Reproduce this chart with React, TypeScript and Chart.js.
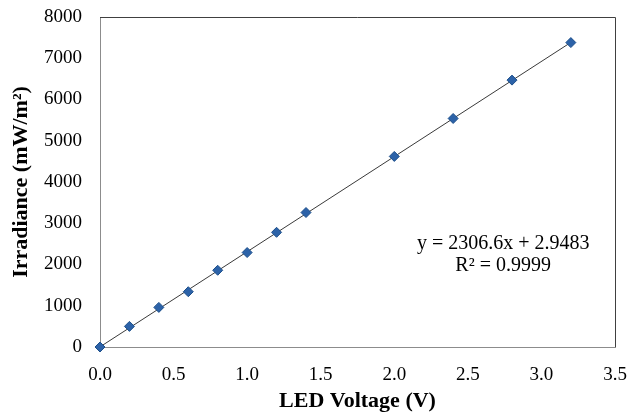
import React, { useEffect, useRef } from "react";
import { Chart, registerables } from "chart.js";

Chart.register(...registerables);

const voltages = [0, 0.2, 0.4, 0.6, 0.8, 1.0, 1.2, 1.4, 2.0, 2.4, 2.8, 3.2];
const irradiance = [0, 500, 960, 1340, 1860, 2290, 2780, 3260, 4620, 5540, 6470, 7380];
const slope = 2306.6;
const intercept = 2.9483;
const trendX = [0, 3.2];
const equationLines = ["y = 2306.6x + 2.9483", "R² = 0.9999"];
const xTitle = "LED Voltage (V)";
const yTitle = "Irradiance (mW/m²)";

const FONT = "'Liberation Serif', 'Times New Roman', serif";

export default function App() {
  const ref = useRef<HTMLCanvasElement>(null);

  useEffect(() => {
    const canvas = ref.current;
    if (!canvas) return;

    const framePlugin = {
      id: "frame",
      afterDatasetsDraw(chart: any) {
        const { ctx, chartArea } = chart;
        ctx.save();
        ctx.strokeStyle = "#404040";
        ctx.lineWidth = 1;
        ctx.beginPath();
        ctx.moveTo(chartArea.left, chartArea.top + 0.5);
        ctx.lineTo(chartArea.right + 0.5, chartArea.top + 0.5);
        ctx.lineTo(chartArea.right + 0.5, chartArea.bottom);
        ctx.stroke();
        const xs = chart.scales.x;
        const ys = chart.scales.y;
        ctx.fillStyle = "#000";
        ctx.font = `20px ${FONT}`;
        ctx.textAlign = "center";
        ctx.textBaseline = "middle";
        ctx.fillText(equationLines[0], xs.getPixelForValue(2.74), ys.getPixelForValue(2500));
        ctx.fillText(equationLines[1], xs.getPixelForValue(2.74), ys.getPixelForValue(1960));
        ctx.restore();
      },
    };

    const chart = new Chart(canvas, {
      type: "scatter",
      data: {
        datasets: [
          {
            label: "Linear",
            type: "line",
            data: trendX.map((x) => ({ x, y: slope * x + intercept })),
            borderColor: "#3a3a3a",
            borderWidth: 1,
            pointRadius: 0,
            fill: false,
            order: 2,
          },
          {
            label: "Irradiance",
            data: voltages.map((x, i) => ({ x, y: irradiance[i] })),
            pointStyle: "rectRot",
            pointRadius: 5,
            backgroundColor: "#2c62a8",
            borderColor: "#1d4f8a",
            borderWidth: 1,
            clip: false,
            order: 1,
          },
        ],
      },
      options: {
        responsive: false,
        animation: false,
        layout: { padding: { left: 0, top: 17, right: 12, bottom: 0 } },
        plugins: { legend: { display: false }, tooltip: { enabled: false } },
        scales: {
          x: {
            type: "linear",
            min: 0,
            max: 3.5,
            ticks: {
              stepSize: 0.5,
              color: "#000",
              font: { family: FONT, size: 19 },
              padding: 17,
              callback: (v: any) => Number(v).toFixed(1),
            },
            grid: { display: false, drawTicks: false },
            border: { display: true, color: "#8c8c8c", width: 1 },
            title: {
              display: true,
              text: xTitle,
              color: "#000",
              font: { family: FONT, size: 22, weight: "bold" },
              padding: { top: 2, bottom: -3 },
            },
            afterFit: (s: any) => {
              s.height = 65;
              s.paddingLeft = 0;
              s.paddingRight = 0;
            },
          },
          y: {
            type: "linear",
            min: 0,
            max: 8000,
            ticks: {
              stepSize: 1000,
              color: "#000",
              font: { family: FONT, size: 19 },
              padding: 18,
              callback: (v: any) => String(v),
            },
            grid: { display: false, drawTicks: false },
            border: { display: true, color: "#8c8c8c", width: 1 },
            title: {
              display: true,
              text: yTitle,
              color: "#000",
              font: { family: FONT, size: 22, weight: "bold" },
              padding: { top: 8, bottom: 0 },
            },
            afterFit: (s: any) => {
              s.width = 100;
              s.paddingTop = 0;
              s.paddingBottom = 0;
            },
          },
        },
      },
      plugins: [framePlugin],
    });

    return () => chart.destroy();
  }, []);

  return (
    <div style={{ position: "fixed", left: 0, top: 0, width: 627, height: 412, background: "#fff" }}>
      <canvas ref={ref} width={627} height={412} style={{ display: "block" }} />
    </div>
  );
}
